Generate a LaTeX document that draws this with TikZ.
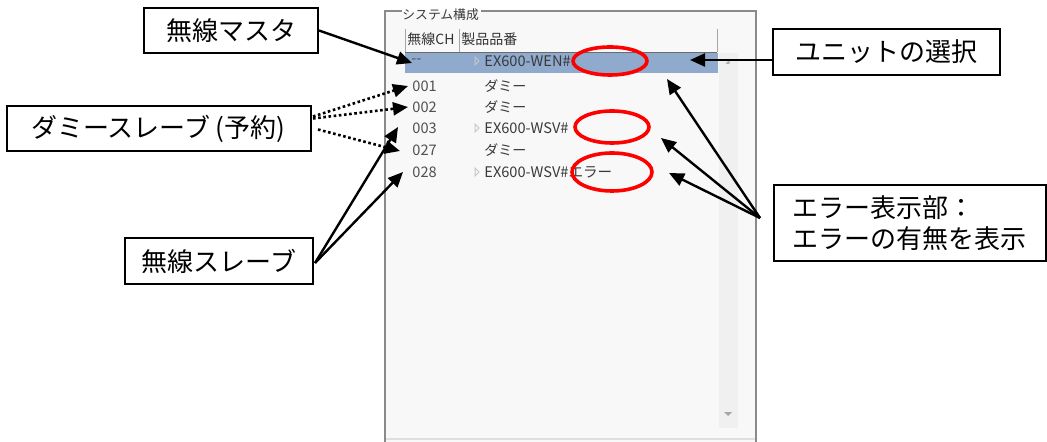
\documentclass[tikz,border=0pt]{standalone}
\usepackage{fontspec}
\setmainfont{Noto Sans CJK JP}
\usetikzlibrary{arrows.meta,calc}
\definecolor{panelbg}{HTML}{F8F8F8}
\definecolor{framegray}{HTML}{8A8A8A}
\definecolor{selblue}{HTML}{8FAACD}
\definecolor{trackgray}{HTML}{F0F0F0}
\definecolor{uitext}{HTML}{3A3A3A}
\definecolor{numtext}{HTML}{505050}
\begin{document}
\begin{tikzpicture}[x=0.5pt,y=-0.5pt,
  lbl/.style={draw, line width=1pt, fill=white, inner sep=0pt,
    font=\fontsize{13pt}{15.5pt}\selectfont},
  arr/.style={line width=1.2pt, -{Triangle[length=7.5pt,width=6.5pt]}},
  dotarr/.style={line width=1.3pt, dash pattern=on 1.3pt off 1.3pt,
    -{Triangle[length=7.5pt,width=6.5pt]}},
  ui/.style={anchor=west, inner sep=0pt, text=uitext, font=\fontsize{7.3pt}{8pt}\selectfont},
  uinum/.style={ui, text=numtext},
  redmark/.style={red, line width=1.8pt},
  expander/.style={draw=gray!45, line width=0.5pt}
]
\useasboundingbox (0,0) rectangle (1047,442);
\fill[white] (0,0) rectangle (1047,442);

% ---- window panel ----
\fill[panelbg] (384,11) rectangle (757,442);
\draw[framegray, line width=0.9pt] (402,11) -- (385,11) -- (385,442);
\draw[framegray, line width=0.9pt] (481,11) -- (756,11) -- (756,442);
\draw[gray!25, line width=0.6pt] (386,439) -- (755,439);
\node[anchor=west, inner sep=0pt, text=uitext, font=\fontsize{6.4pt}{7pt}\selectfont] (title) at (402,15) {システム構成};

% header
\draw[gray!70, line width=0.5pt] (405,29) -- (405,52);
\draw[gray!70, line width=0.5pt] (459,29) -- (459,52);
\draw[gray!70, line width=0.5pt] (717,29) -- (717,52);
\node[ui, text=black!80, font=\fontsize{7pt}{8pt}\selectfont] (h1) at (407,39) {無線CH};
\node[ui, text=black!80, font=\fontsize{7pt}{8pt}\selectfont] (h2) at (461,39) {製品品番};

% scrollbar track
\fill[trackgray] (719,53) rectangle (738,428);
\fill[gray!60] (725.5,64) -- (729.5,59) -- (729.5,64) -- cycle;
\fill[gray!70] (724,412) -- (732,412) -- (728,416) -- cycle;

% selected row
\fill[selblue] (405,53) rectangle (718,73);
\draw[gray!85!black, line width=0.9pt] (405,52.5) -- (717,52.5);

% rows
\node[uinum] (n1) at (411,61) {-{}-};
\node[uinum] (n2) at (412,86) {001};
\node[uinum] (n3) at (412,107) {002};
\node[uinum] (n4) at (412,128) {003};
\node[uinum] (n5) at (412,150) {027};
\node[uinum] (n6) at (412,172) {028};
\draw[expander] (475,57) -- (479,61) -- (475,65) -- cycle;
\draw[expander] (475,124) -- (479,128) -- (475,132) -- cycle;
\draw[expander] (475,168) -- (479,172) -- (475,176) -- cycle;
\node[ui] (p1) at (484,61) {EX600-WEN\#};
\node[ui, font=\fontsize{7pt}{8pt}\selectfont] (p2) at (484,86) {ダミー};
\node[ui, font=\fontsize{7pt}{8pt}\selectfont] (p3) at (484,107) {ダミー};
\node[ui] (p4) at (484,128) {EX600-WSV\#};
\node[ui, font=\fontsize{7pt}{8pt}\selectfont] (p5) at (484,150) {ダミー};
\node[ui] (p6) at (484,172) {EX600-WSV\#エラー};

% red marks
\draw[redmark] (610,61) ellipse [x radius=18.5pt, y radius=7pt];
\draw[redmark] (612,127) ellipse [x radius=18.5pt, y radius=8pt];
\draw[redmark] (612,172) ellipse [x radius=20pt, y radius=9.5pt];

% ---- label boxes ----
\node[lbl, minimum width=87pt, minimum height=22.5pt] (m) at (231,30.5) {無線マスタ};
\node[lbl, minimum width=152pt, minimum height=22.5pt] (d) at (159,128.5) {ダミースレーブ\kern2.5pt(予約)\kern1pt};
\node[lbl, minimum width=94pt, minimum height=23pt] (s) at (219,261) {無線スレーブ};
\node[lbl, minimum width=113.5pt, minimum height=23pt] (u) at (886.5,52) {ユニットの選択};
\node[lbl, anchor=west, align=left, text width=118pt, inner xsep=9pt, minimum height=38pt] (e) at (773,223) {エラー表示部：\\エラーの有無を表示};

% ---- arrow tips ----
\coordinate (tM) at (412,63);
\coordinate (tD1) at (408,86);
\coordinate (tD2) at (408,107);
\coordinate (tD3) at (400,151);
\coordinate (tS1) at (398,127);
\coordinate (tS2) at (403,172);
\coordinate (tU) at (690,60);
\coordinate (tE1) at (667,79);
\coordinate (tE2) at (661,138);
\coordinate (tE3) at (669,173);

% ---- connectors ----
\draw[arr] (m.east) -- (tM);
\draw[dotarr] ($(d.east)+(1,-12)$) -- (tD1);
\draw[dotarr] ($(d.east)+(1,-10)$) -- (tD2);
\draw[dotarr] ($(d.east)+(6,1)$) -- (tD3);
\draw[arr] ($(s.east)+(1,2)$) -- (tS1);
\draw[arr] ($(s.east)+(1,2)$) -- (tS2);
\draw[arr] ($(u.west)+(0,8)$) -- (tU);
\draw[arr] ($(e.west)+(-13,-5)$) -- (tE1);
\draw[arr] ($(e.west)+(-13,-5)$) -- (tE2);
\draw[arr] ($(e.west)+(-13,-5)$) -- (tE3);
\end{tikzpicture}
\end{document}
